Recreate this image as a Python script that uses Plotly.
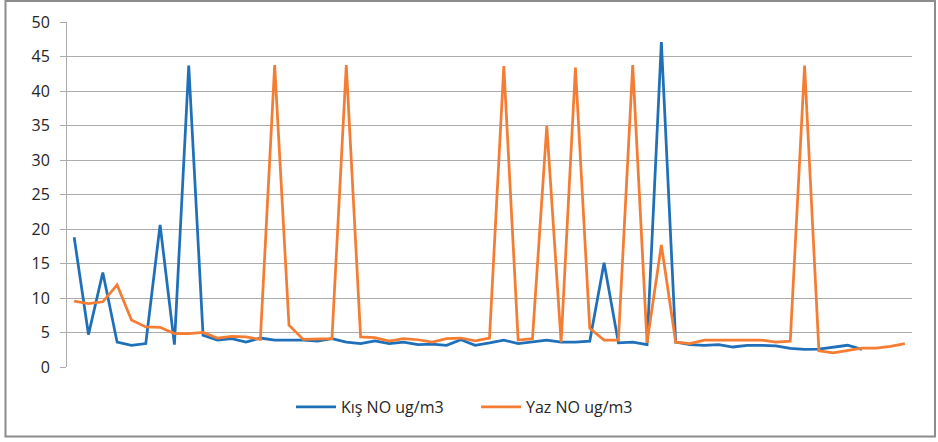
import plotly.graph_objects as go

x_idx = list(range(1, 60))

kis_no = [18.8, 4.7, 13.7, 3.6, 3.15, 3.4, 20.6, 3.25, 43.7, 4.6,
          3.9, 4.1, 3.6, 4.2, 3.9, 3.9, 3.9, 3.75, 4.1, 3.6,
          3.4, 3.8, 3.4, 3.6, 3.25, 3.3, 3.15, 3.95, 3.15, 3.5,
          3.9, 3.4, 3.6, 3.9, 3.6, 3.6, 3.75, 15.1, 3.5, 3.6,
          3.25, 47.1, 3.6, 3.25, 3.15, 3.25, 2.9, 3.15, 3.15, 3.05,
          2.7, 2.55, 2.6, 2.85, 3.15, 2.55]

yaz_no = [9.55, 9.2, 9.45, 11.9, 6.8, 5.8, 5.75, 4.85, 4.85, 5.0,
          4.2, 4.45, 4.35, 4.0, 43.75, 6.05, 4.0, 4.1, 4.1, 43.75,
          4.35, 4.25, 3.75, 4.1, 3.95, 3.6, 4.1, 4.2, 3.8, 4.2,
          43.6, 3.9, 4.1, 34.9, 3.6, 43.4, 5.6, 3.9, 3.9, 43.75,
          3.5, 17.7, 3.6, 3.4, 3.9, 3.9, 3.9, 4.0, 3.9, 3.6,
          3.75, 43.7, 2.35, 2.05, 2.45, 2.75, 2.75, 3.0, 3.4]

series_names = ["Kış NO ug/m3", "Yaz NO ug/m3"]
y_ticks = [0, 5, 10, 15, 20, 25, 30, 35, 40, 45, 50]

fig = go.Figure()
fig.add_trace(go.Scatter(x=x_idx[:len(kis_no)], y=kis_no, mode="lines",
                         name=series_names[0],
                         line=dict(color="#1F70B8", width=2.75)))
fig.add_trace(go.Scatter(x=x_idx, y=yaz_no, mode="lines",
                         name=series_names[1],
                         line=dict(color="#F47D33", width=2.75)))

fig.update_layout(
    width=938, height=442,
    margin=dict(l=67, r=26, t=22, b=75),
    paper_bgcolor="white", plot_bgcolor="white",
    font=dict(family="Open Sans, Liberation Sans, sans-serif", size=16, color="#262626"),
    showlegend=True,
    legend=dict(orientation="h", x=(291 - 67) / 845, xanchor="left", y=-0.116, yanchor="middle",
                font=dict(size=16, color="#262626"), itemwidth=40, entrywidth=130,
                tracegroupgap=0),
    xaxis=dict(range=[0.5, 59.5], showgrid=False, showticklabels=False, ticks="",
               zeroline=False, showline=False, fixedrange=True),
    yaxis=dict(range=[0, 50], tickvals=y_ticks, showgrid=True, gridcolor="#ABABAB",
               gridwidth=1, zeroline=False, showline=True, linecolor="#ABABAB",
               linewidth=1, ticks="outside", ticklen=6, tickcolor="#ABABAB",
               ticklabelstandoff=7, tickfont=dict(size=16, color="#262626")),
    shapes=[dict(type="rect", xref="paper", yref="paper",
                 x0=-0.0728, x1=1.0272, y0=-0.2014, y1=1.0609,
                 line=dict(color="#8C8C8C", width=2), fillcolor="rgba(0,0,0,0)",
                 layer="below")],
)

fig.write_html("out.html")
